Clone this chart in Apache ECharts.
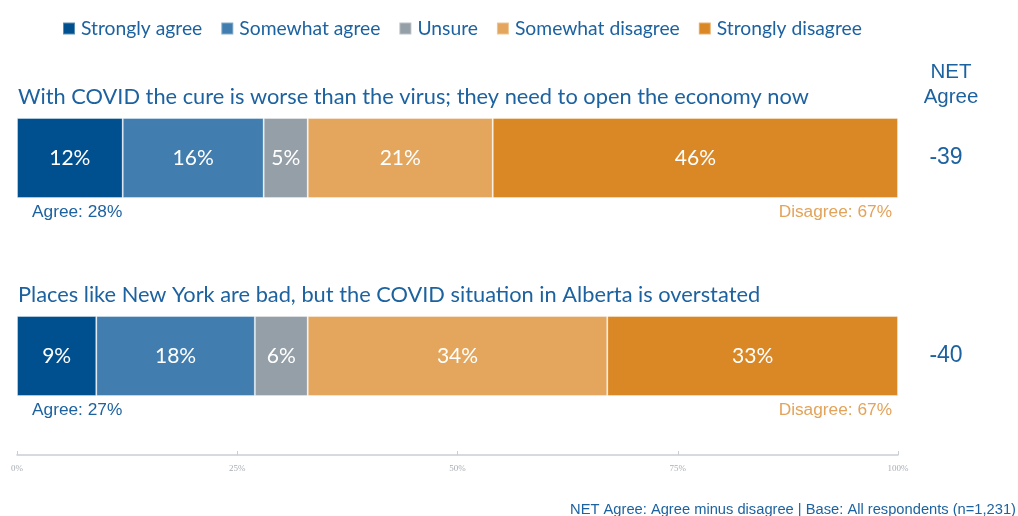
<!DOCTYPE html>
<html>
<head>
<meta charset="utf-8">
<script src="https://cdn.jsdelivr.net/npm/echarts@6/dist/echarts.min.js"></script>
<style>
  html, body { margin: 0; padding: 0; background: #fff; }
  #chart { width: 1018px; height: 516px; }
</style>
</head>
<body>
<div id="chart"></div>
<script>
// Survey statements and response shares (percent)
const statements = [
  'With COVID the cure is worse than the virus; they need to open the economy now',
  'Places like New York are bad, but the COVID situation in Alberta is overstated'
];
const stronglyAgree    = [12, 9];
const somewhatAgree    = [16, 18];
const unsure           = [5, 6];
const somewhatDisagree = [21, 34];
const stronglyDisagree = [46, 33];
const tickLabels = ['0%', '25%', '50%', '75%', '100%'];

const BLUE_TEXT = '#1D62A0';
const ORANGE_TEXT = '#E3A35A';
const colors = ['#00508F', '#417EAF', '#959FA8', '#E3A65C', '#DA8826'];
const names = ['Strongly agree', 'Somewhat agree', 'Unsure', 'Somewhat disagree', 'Strongly disagree'];
const values = [stronglyAgree, somewhatAgree, unsure, somewhatDisagree, stronglyDisagree];

const agreeTotals = statements.map((_, i) => stronglyAgree[i] + somewhatAgree[i]);
const disagreeTotals = statements.map((_, i) => somewhatDisagree[i] + stronglyDisagree[i]);
const netAgree = statements.map((_, i) => agreeTotals[i] - disagreeTotals[i]);

const chart = echarts.init(document.getElementById('chart'));

const series = names.map((name, k) => ({
  name: name,
  type: 'bar',
  stack: 'total',
  barWidth: 80,
  data: values[k],
  itemStyle: { color: colors[k], borderColor: 'rgba(255,255,255,0.35)', borderWidth: 1 },
  label: {
    show: true,
    position: 'inside',
    formatter: p => p.value + '%',
    color: '#fff',
    fontFamily: 'Lato',
    fontSize: 21
  }
}));

chart.setOption({
  animation: false,
  legend: {
    left: 57,
    top: 14,
    itemWidth: 12,
    itemHeight: 12,
    itemGap: 18,
    icon: 'rect',
    textStyle: { color: BLUE_TEXT, fontFamily: 'Lato', fontSize: 19.3, padding: [0, 0, 0, 1] },
    data: names
  },
  grid: { left: 17, right: 120, top: 59, bottom: 61 },
  xAxis: {
    type: 'value',
    min: 0,
    max: 100,
    interval: 25,
    axisLine: { show: true, lineStyle: { color: '#C9CED4', width: 1.5 } },
    axisTick: { show: true, inside: true, length: 4, lineStyle: { color: '#C9CED4' } },
    splitLine: { show: false },
    axisLabel: {
      color: '#A8AEB4',
      fontFamily: 'Liberation Sans Narrow',
      fontSize: 9,
      margin: 9,
      formatter: v => tickLabels[v / 25]
    }
  },
  yAxis: {
    type: 'category',
    inverse: true,
    data: statements,
    axisLine: { show: false },
    axisTick: { show: false },
    axisLabel: { show: false }
  },
  series: series
});

// Statement titles, agree/disagree totals and NET column placed from axis coordinates
const graphics = [];
statements.forEach((text, i) => {
  const left = chart.convertToPixel({ gridIndex: 0 }, [0, i]);
  const right = chart.convertToPixel({ gridIndex: 0 }, [100, i]);
  const cy = left[1];
  graphics.push({
    type: 'text', left: left[0] + 1, top: cy - 72,
    style: { text: text, fill: BLUE_TEXT, font: '21.8px Lato' }
  });
  graphics.push({
    type: 'text', left: left[0] + 15, top: cy + 46,
    style: { text: 'Agree: ' + agreeTotals[i] + '%', fill: BLUE_TEXT, font: '17.3px "Liberation Sans"' }
  });
  graphics.push({
    type: 'text', right: 1018 - right[0] + 6, top: cy + 46,
    style: { text: 'Disagree: ' + disagreeTotals[i] + '%', fill: ORANGE_TEXT, font: '17.3px "Liberation Sans"', textAlign: 'right' }
  });
  graphics.push({
    type: 'text', x: 946, y: cy,
    style: { text: String(netAgree[i]), fill: BLUE_TEXT, font: '23px "Liberation Sans"', textAlign: 'center', textVerticalAlign: 'middle' }
  });
});
graphics.push({
  type: 'text', x: 951, y: 60,
  style: { text: 'NET\nAgree', fill: BLUE_TEXT, font: '20.5px "Liberation Sans"', textAlign: 'center', lineHeight: 25 }
});
graphics.push({
  type: 'text', x: 1016, y: 502,
  style: { text: 'NET Agree: Agree minus disagree | Base: All respondents (n=1,231)', fill: BLUE_TEXT, font: '14.7px "Liberation Sans"', textAlign: 'right' }
});
chart.setOption({ graphic: graphics });
</script>
</body>
</html>
